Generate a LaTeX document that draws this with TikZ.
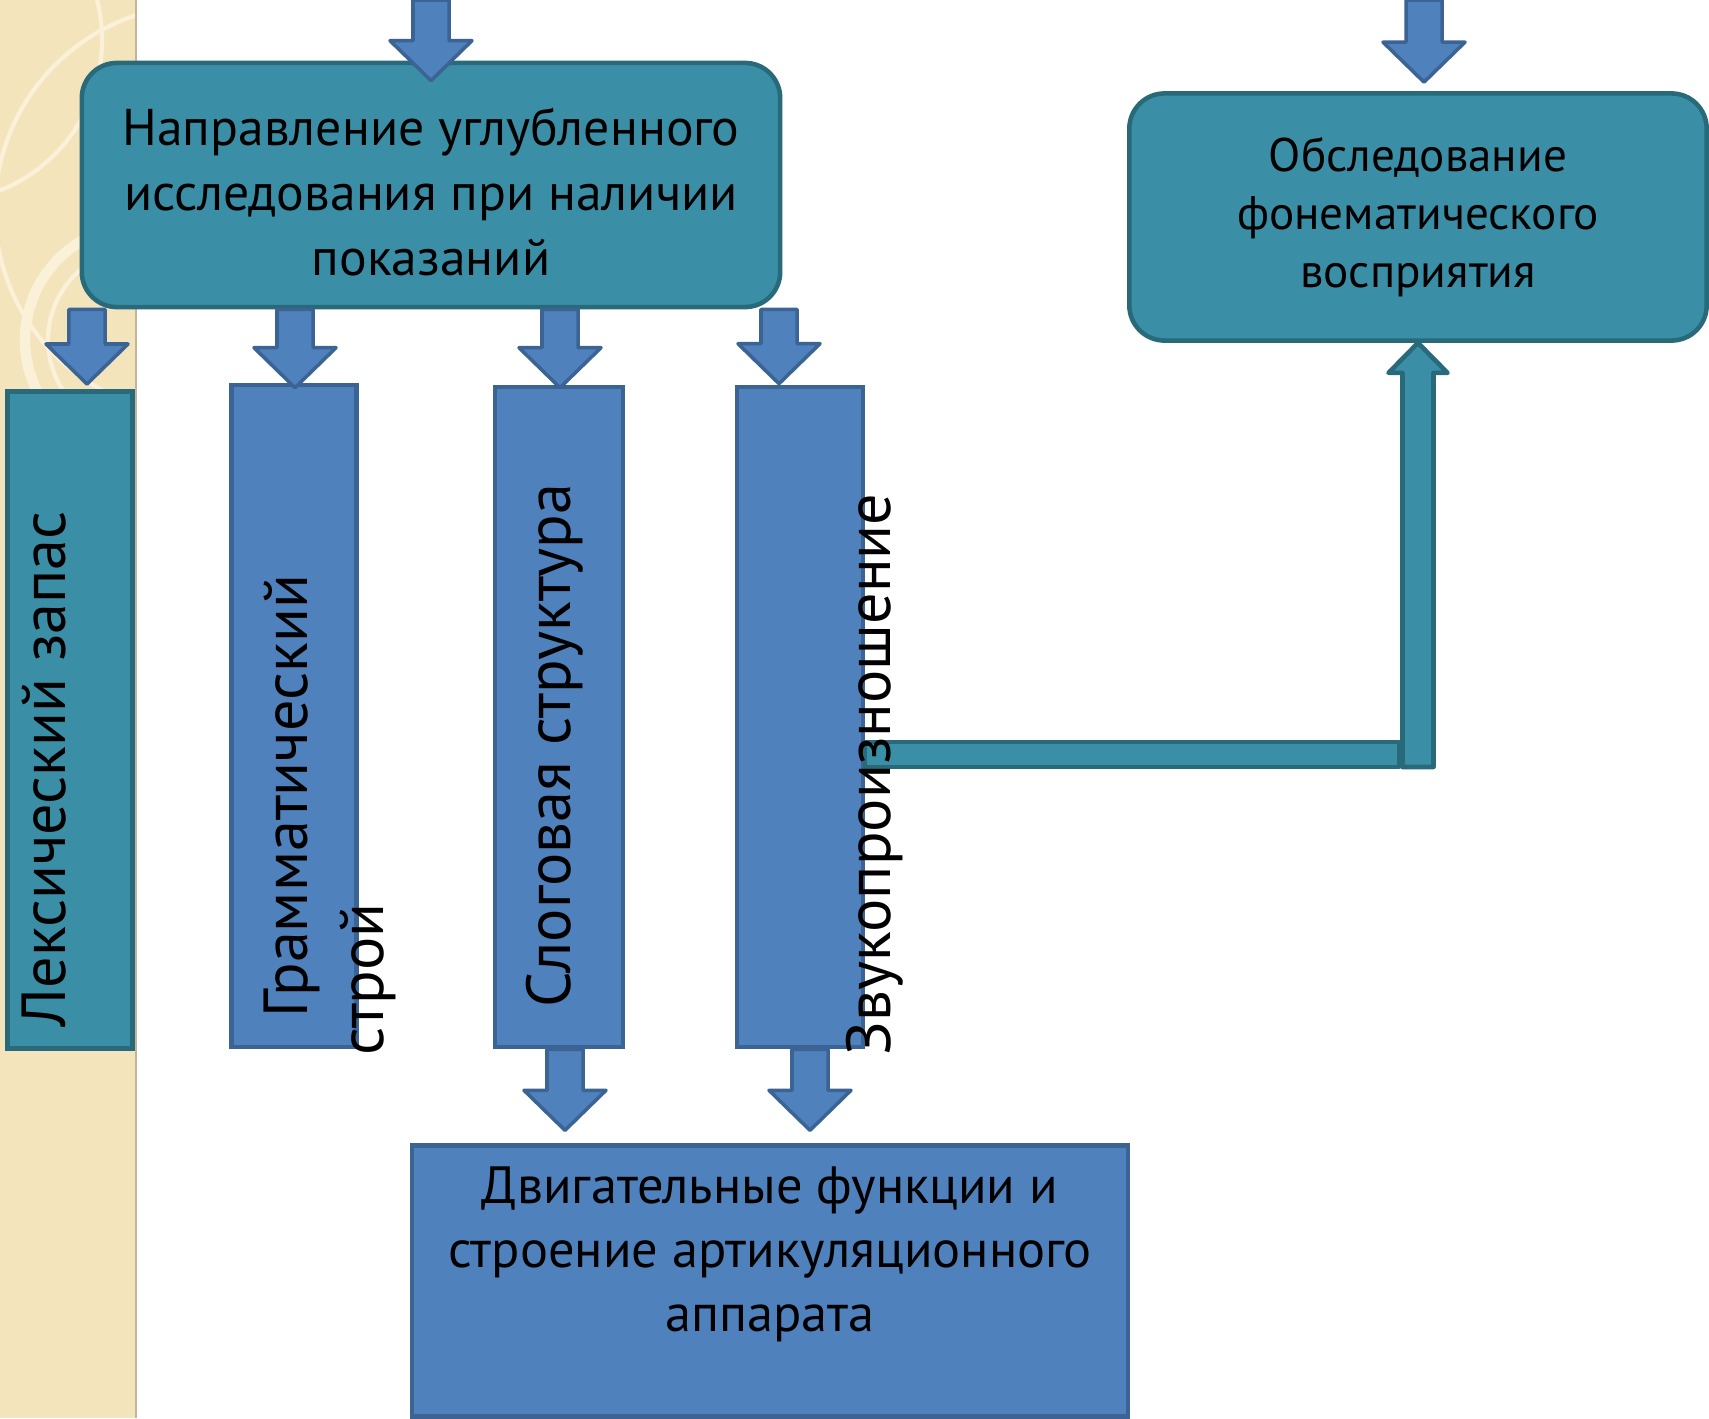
\documentclass[tikz,border=0pt]{standalone}
\usepackage{fontspec}
\setmainfont{PT Sans}
\usetikzlibrary{calc}

\definecolor{tealfill}{HTML}{3A8FA7}
\definecolor{tealline}{HTML}{28697A}
\definecolor{bluefill}{HTML}{4F81BD}
\definecolor{blueline}{HTML}{3B6393}
\definecolor{paper}{HTML}{F3E4BC}
\definecolor{paperline}{HTML}{FAF1D8}

\tikzset{
  tealbox/.style={draw=tealline,fill=tealfill,line width=1.3pt,rounded corners=10pt,align=center,inner sep=0pt},
  tealcol/.style={draw=tealline,fill=tealfill,line width=1.3pt,inner sep=0pt},
  bluebox/.style={draw=blueline,fill=bluefill,line width=1.2pt,inner sep=0pt,align=center},
  bluearrow/.style={draw=blueline,fill=bluefill,line width=1pt,line join=round},
  tealarrow/.style={draw=tealline,fill=tealfill,line width=1.3pt,line join=round},
  sidetext/.style={rotate=90,anchor=base west,inner sep=0pt,align=left,font=\fontsize{17.7}{21.6}\selectfont},
  boxtext/.style={font=\fontsize{14.7}{18.5}\selectfont}
}

% fat arrow pointing down, from #2 to the tip #3
\newcommand{\downblock}[3][bluearrow]{%
  \draw[#1] let \p1=#2, \p2=#3 in
    (\x2-0.18cm,\y1) -- (\x2-0.18cm,\y2+0.4cm) -- (\x2-0.41cm,\y2+0.4cm) -- (\x2,\y2)
    -- (\x2+0.41cm,\y2+0.4cm) -- (\x2+0.18cm,\y2+0.4cm) -- (\x2+0.18cm,\y1) -- cycle;}
% fat arrow pointing up, from #2 to the tip #3
\newcommand{\upblock}[3][tealarrow]{%
  \draw[#1] let \p1=#2, \p2=#3 in
    (\x2-0.155cm,\y1) -- (\x2-0.155cm,\y2-0.3cm) -- (\x2-0.295cm,\y2-0.3cm) -- (\x2,\y2)
    -- (\x2+0.295cm,\y2-0.3cm) -- (\x2+0.155cm,\y2-0.3cm) -- (\x2+0.155cm,\y1) -- cycle;}

\begin{document}
\begin{tikzpicture}[x=0.01cm,y=-0.01cm]
  \useasboundingbox (0,0) rectangle (1709,1418);
  % paper strip on the left
  \fill[paper] (0,0) rectangle (136,1418);
  \begin{scope}
    \clip (0,0) rectangle (136,1418);
    \draw[paperline,line width=1.2pt] (200,210) circle (205);
    \draw[paperline,line width=1.2pt] (-60,40) circle (162);
    \draw[paperline,line width=3pt] (140,340) circle (115);
    \draw[paperline,line width=1.2pt] (140,340) circle (92);
  \end{scope}
  \draw[paper!80!black,line width=0.8pt] (136,0) -- (136,1418);

  % boxes
  \node[tealbox,boxtext,text height=51.5pt,minimum width=6.98cm,minimum height=2.44cm] (dir) at (431,185)
    {Направление углубленного\\исследования при наличии\\показаний};
  \node[tealbox,font=\fontsize{13.4}{16.5}\selectfont,minimum width=5.77cm,minimum height=2.47cm] (phon) at (1418,217)
    {Обследование\\фонематического\\восприятия};
  \node[tealcol,minimum width=1.25cm,minimum height=6.57cm] (lex) at (70,720) {};
  \node[bluebox,minimum width=1.25cm,minimum height=6.62cm] (gram) at (294,716) {};
  \node[bluebox,minimum width=1.28cm,minimum height=6.60cm] (syl) at (559,717) {};
  \node[bluebox,minimum width=1.26cm,minimum height=6.60cm] (snd) at (800,717) {};
  \node[bluebox,font=\fontsize{14.9}{18.2}\selectfont,minimum width=7.16cm,minimum height=2.71cm] (motor) at (770,1281)
    {Двигательные функции и\\строение артикуляционного\\аппарата\\\mbox{}};

  % arrows
  \coordinate (in1) at (431,0);
  \coordinate (in2) at (1424,0);
  \downblock{(in1)}{($(dir.north)+(0,20)$)}
  \downblock{(in2)}{($(phon.north)+(6,-9)$)}
  \downblock{(dir.south)}{($(lex.north)+(17,-5)$)}
  \downblock{(dir.south)}{($(gram.north)+(1,5)$)}
  \downblock{(dir.south)}{($(syl.north)+(1,3)$)}
  \downblock{(dir.south)}{($(snd.north)+(-21,-1)$)}
  \downblock{(syl.south)}{($(motor.north)+(-205,-13)$)}
  \downblock{(snd.south)}{($(motor.north)+(40,-13)$)}

  % from Звукопроизношение to the right box
  \coordinate (barend) at (1399,742);
  \coordinate (barfoot) at (1418,767);
  \draw[tealarrow] (snd.east |- barend) rectangle (barend |- barfoot);
  \upblock{(barfoot)}{(phon.south)}

  % side texts
  \node[sidetext] (lextext) at (65,1028) {Лексический запас};
  \node[sidetext] (gramtext) at (383,1018) {Грамматический\\\hspace*{-11pt}строй};
  \node[sidetext] (syltext) at (570,1008) {Слоговая структура};
  \node[sidetext] (sndtext) at (890,1056) {Звукопроизношение};
\end{tikzpicture}
\end{document}
